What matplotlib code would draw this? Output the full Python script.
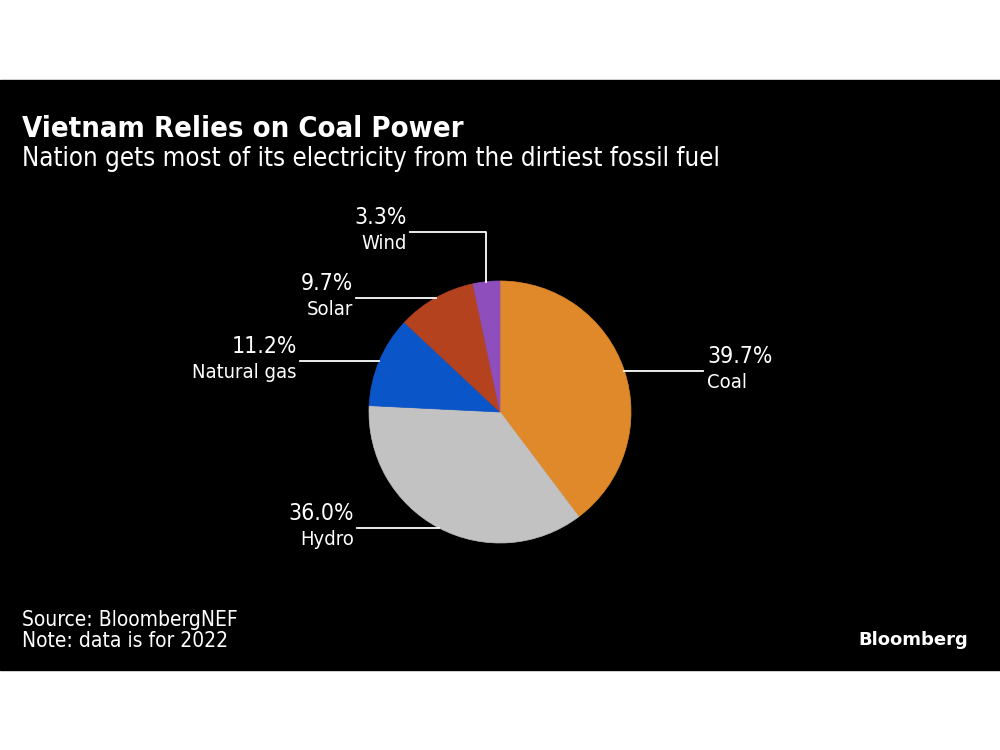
import matplotlib
matplotlib.use("Agg")
import matplotlib.pyplot as plt
import numpy as np

# data
sources = ["Coal", "Hydro", "Natural gas", "Solar", "Wind"]
shares = [39.7, 36.0, 11.2, 9.7, 3.3]
colors = ["#e0892a", "#c2c2c2", "#0a56c9", "#b5421f", "#8e4fbd"]

title = "Vietnam Relies on Coal Power"
subtitle = "Nation gets most of its electricity from the dirtiest fossil fuel"
source_note = "Source: BloombergNEF\nNote: data is for 2022"

plt.rcParams["font.family"] = ["DejaVu Sans"]
plt.rcParams["font.stretch"] = "condensed"

fig = plt.figure(figsize=(10, 7.5), dpi=100)
fig.patch.set_facecolor("white")
ax = fig.add_axes([0, 0, 1, 1])

# black panel
ax.add_patch(plt.Rectangle((0, 80), 1000, 590, color="black", zorder=0))

cx, cy, r = 500, 338, 131
wedges, _ = ax.pie(shares, colors=colors, startangle=90, counterclock=False,
                   center=(cx, cy), radius=r, frame=True,
                   wedgeprops=dict(linewidth=0.5))
for w in wedges:
    w.set_edgecolor(w.get_facecolor())
ax.set_xlim(0, 1000)
ax.set_ylim(0, 750)
ax.set_aspect("equal")
ax.axis("off")

# label layout: (line end x, elbow y or None, side)
layout = {
    "Coal": (703, None, "right"),
    "Hydro": (357, None, "left"),
    "Natural gas": (300, None, "left"),
    "Solar": (356, None, "left"),
    "Wind": (410, 750 - 232, "left"),
}

for w, name, val in zip(wedges, sources, shares):
    ang = np.deg2rad((w.theta1 + w.theta2) / 2)
    x0 = cx + r * np.cos(ang)
    y0 = cy + r * np.sin(ang)
    xe, elbow, side = layout[name]
    if elbow is None:
        ax.plot([x0, xe], [y0, y0], color="white", lw=1.3)
        ty = y0
    else:
        ax.plot([x0, x0, xe], [y0, elbow, elbow], color="white", lw=1.3)
        ty = elbow
    if side == "right":
        tx, ha = xe + 4, "left"
    else:
        tx, ha = xe - 3, "right"
    ax.text(tx, ty + 3, f"{val:.1f}%", color="white", fontsize=16.5,
            ha=ha, va="bottom")
    ax.text(tx, ty - 2, name, color="white", fontsize=14.5, ha=ha, va="top")

ax.text(22, 750 - 137, title, color="white", fontsize=21, fontweight="bold",
        ha="left", va="baseline")
ax.text(22, 750 - 166, subtitle, color="white", fontsize=18.5,
        ha="left", va="baseline")
ax.text(22, 750 - 647, source_note, color="white", fontsize=15,
        ha="left", va="baseline", linespacing=1.05)
ax.text(968, 750 - 645, "Bloomberg", color="white", fontsize=13,
        fontweight="bold", ha="right", va="baseline", fontstretch="normal")

fig.savefig("out.png", dpi=100, facecolor="white")
